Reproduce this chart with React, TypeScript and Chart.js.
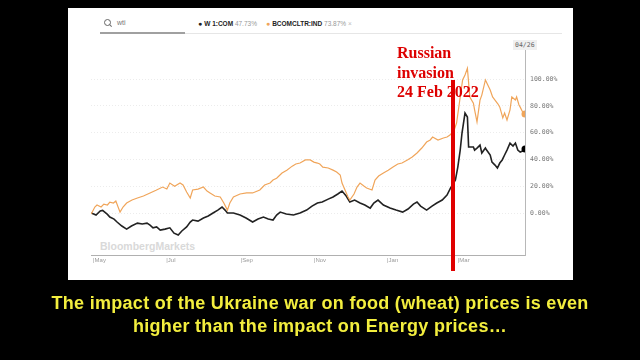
import React, { useEffect, useRef } from "react";
import { Chart, registerables } from "chart.js";

Chart.register(...registerables);

// Days counted from 1 May 2021; values are % change over one year
const wheatDays = [-1.5, 2.5, 6, 8, 12, 14, 17.5, 20, 24, 28, 32, 37, 41, 45, 47.5, 50, 53, 56, 60, 64, 67.5, 71, 74, 78, 81, 83, 87.5, 92, 96, 100, 104, 107.5, 110, 112, 117, 122.5, 127.5, 133, 137.5, 142, 146, 150, 153, 156, 161, 167, 172.5, 178, 182.5, 187, 191, 196, 200, 204, 207.5, 211, 214, 218, 222.5, 226.5, 231, 234, 237.5, 242, 247.5, 252.5, 258, 262.5, 267, 270, 273, 278, 282.5, 286.5, 291, 295, 298, 302, 304, 306, 307.5, 310, 312, 313, 317, 318, 320, 322.5, 324, 327, 328, 331, 332.5, 335, 337, 339, 341, 343, 345, 347.5, 350, 352, 354, 356, 358, 360];
const wheatPct = [0, -1.5, 1.5, 2, -1, -3, -4.5, -6.7, -9.7, -12, -9.7, -7.5, -8.2, -7.5, -9, -11, -10.4, -12.7, -12, -11, -15, -16.4, -13.4, -10.4, -6.7, -5.2, -6, -3.7, -2.2, 0, 2.2, 4.5, 2.2, 0, 0, -1.5, -3.7, -6.7, -4.5, -3, -4.5, -5.2, -1.5, 0.7, -0.7, -1.5, 0, 2.2, 5.2, 7.5, 8.2, 10.4, 12, 14.2, 16.4, 12.7, 8.2, 9.7, 7.5, 6, 3.7, 7.5, 9.7, 6, 3.7, 2.2, 0.7, 3, 6.7, 8.2, 5.2, 2.2, 5.2, 7.5, 9.7, 13.4, 18.7, 24.6, 34.3, 47, 59.7, 74.6, 71.6, 49.3, 49.3, 47, 48.5, 50.7, 44.8, 48.5, 47, 43.3, 38, 35.8, 33.6, 37.3, 39.6, 43.3, 47, 52.2, 50, 52.2, 47, 45.5, 46.3, 47.73];

const energyDays = [-1.5, 1.5, 3.3, 6.7, 9, 12, 14, 17, 19, 22.5, 25, 28, 32.5, 37, 42, 47.5, 52.5, 58, 61.5, 64, 68, 72.5, 75, 78, 81, 83, 87.5, 92, 95, 97.5, 101.5, 106, 109, 112, 114, 117, 122.5, 128, 133, 139, 143, 147.5, 150, 153, 157.5, 161.5, 166, 169, 172.5, 177, 181, 184, 187, 189, 191.5, 196, 200, 203, 206, 207.5, 210, 212.5, 214, 217.5, 220, 222.5, 226, 228, 232.5, 235, 238, 242, 246, 250, 254, 257.5, 262, 266, 270, 274, 278, 281, 283, 287.5, 292, 295, 297.5, 301, 303, 306, 308, 310, 312, 314, 317, 318, 320, 322.5, 324, 327, 329, 331, 333, 335, 337.5, 339, 341.5, 343, 345, 347.5, 349, 352, 353, 355, 356, 358, 360];
const energyPct = [-0.7, 4.5, 6, 4.5, 6.7, 6, 8.2, 7.5, 9, 0.7, 4.5, 7.5, 9.7, 11.2, 12.7, 15, 17, 19.4, 17.9, 22.4, 20, 22.4, 20.9, 15.7, 11.2, 17.2, 17.9, 19.4, 16.4, 15, 12.7, 12, 7.5, 2.2, 7.5, 12, 14.2, 15, 15, 17.2, 20.9, 22.4, 24.6, 26, 29.9, 32, 35, 36.6, 37.3, 39.6, 39.6, 38, 37.3, 36.6, 34.3, 33.6, 32, 30.6, 28.4, 22.4, 17.2, 12, 9.7, 14.2, 19.4, 22.4, 20, 18.7, 17.2, 24.6, 27.6, 29.9, 32, 34.3, 36.6, 37.3, 39.6, 41.8, 44.8, 48.5, 53, 54.5, 56.7, 54.5, 56, 56.7, 58.2, 62, 67.2, 86.6, 99.3, 103, 108, 86.6, 82, 77, 68, 84.3, 88, 99.3, 95.5, 91.8, 86.6, 84.3, 81.3, 79, 71, 74.6, 69.4, 77, 86.6, 84.3, 86.6, 80.6, 79, 75.4, 73.87];

const xTickDays = [0, 61, 123, 184, 245, 304];
const xTickLabels = ["|May", "|Jul", "|Sep", "|Nov", "|Jan", "|Mar"];
const yTickValues = [0, 20, 40, 60, 80, 100];

const abs = (s: React.CSSProperties): React.CSSProperties => ({ position: "absolute", ...s });

export default function App() {
  const ref = useRef<HTMLCanvasElement>(null);
  useEffect(() => {
    if (!ref.current) return;
    const wLast = wheatDays.length - 1;
    const eLast = energyDays.length - 1;
    const chart = new Chart(ref.current, {
      type: "line",
      data: {
        datasets: [
          {
            label: "BCOMCLTR:IND",
            data: energyDays.map((d, i) => ({ x: d, y: energyPct[i] })),
            borderColor: "#f0a55a",
            backgroundColor: "#f0a55a",
            borderWidth: 1.2,
            pointRadius: (c: any) => (c.dataIndex === eLast ? 3.5 : 0),
            pointBorderWidth: 0,
            tension: 0,
          },
          {
            label: "W 1:COM",
            data: wheatDays.map((d, i) => ({ x: d, y: wheatPct[i] })),
            borderColor: "#222",
            backgroundColor: "#000",
            borderWidth: 1.6,
            pointRadius: (c: any) => (c.dataIndex === wLast ? 3.5 : 0),
            pointBorderWidth: 0,
            tension: 0,
          },
        ],
      },
      options: {
        animation: false,
        responsive: false,
        maintainAspectRatio: false,
        layout: { padding: { left: 91, right: 65, top: 40, bottom: 90 } },
        plugins: { legend: { display: false }, tooltip: { enabled: false } },
        scales: {
          x: {
            type: "linear",
            min: -1.7,
            max: 360,
            afterBuildTicks: (s: any) => {
              s.ticks = xTickDays.map((v) => ({ value: v }));
            },
            afterFit: (s: any) => {
              s.height = 15;
            },
            ticks: {
              autoSkip: false,
              maxRotation: 0,
              align: "start",
              padding: 2,
              color: "#9a9a9a",
              font: { family: "Liberation Sans", size: 6 },
              callback: (_v: any, i: number) => xTickLabels[i],
            },
            grid: { display: false, drawTicks: false },
            border: { display: true, color: "#b0b0b0", width: 1 },
          },
          y: {
            position: "right",
            min: -31.3,
            max: 129.1,
            afterBuildTicks: (s: any) => {
              s.ticks = yTickValues.map((v) => ({ value: v }));
            },
            afterFit: (s: any) => {
              s.width = 50;
            },
            ticks: {
              padding: 5,
              color: "#777",
              font: { family: "DejaVu Sans Mono", size: 6.5 },
              callback: (v: any) => Number(v).toFixed(2) + "%",
            },
            grid: { color: "#ececec", lineWidth: 1, drawTicks: false },
            border: { display: true, color: "#b8b8b8", dash: [1, 2], width: 1 },
          },
        },
      },
    });
    return () => chart.destroy();
  }, []);

  const small: React.CSSProperties = { fontFamily: "Liberation Sans, Arial, sans-serif", fontSize: 6.5, whiteSpace: "nowrap" };

  return (
    <div style={{ position: "fixed", left: 0, top: 0, width: 640, height: 360, background: "#000", overflow: "hidden" }}>
      <div style={abs({ left: 68, top: 8, width: 505, height: 272, background: "#fff" })} />
      {/* header */}
      <div style={abs({ left: 104, top: 19, width: 5, height: 5, border: "1.2px solid #666", borderRadius: "50%" })} />
      <div style={abs({ left: 109, top: 25, width: 3, height: 1.3, background: "#666", transform: "rotate(45deg)" })} />
      <div style={abs({ left: 117, top: 19, ...small, fontSize: 7, color: "#777" })}>wti</div>
      <div style={abs({ left: 100, top: 32, width: 85, height: 2, background: "#a0a0a0" })} />
      <div style={abs({ left: 185, top: 33, width: 377, height: 1, background: "#e6e6e6" })} />
      <div style={abs({ left: 198, top: 20, ...small, color: "#222" })}>
        <span style={{ fontSize: 7 }}>● </span>
        <b>W 1:COM</b> <span style={{ color: "#999" }}>47.73%</span>
        <span style={{ color: "#f0a55a", fontSize: 7, marginLeft: 9 }}>● </span>
        <b>BCOMCLTR:IND</b> <span style={{ color: "#999" }}>73.87%</span> <span style={{ color: "#bbb" }}>×</span>
      </div>
      {/* watermark */}
      <div style={abs({ left: 100, top: 240, fontFamily: "Liberation Sans, Arial, sans-serif", fontWeight: "bold", fontSize: 10.5, color: "#d9d9d9", whiteSpace: "nowrap" })}>BloombergMarkets</div>
      <canvas ref={ref} width={640} height={360} style={abs({ left: 0, top: 0, width: 640, height: 360 })} />
      {/* date flag */}
      <div style={abs({ left: 513, top: 40, padding: "1px 2px", background: "#f0f0f0", fontFamily: "DejaVu Sans Mono, monospace", fontSize: 6.5, color: "#666" })}>04/26</div>
      {/* annotation */}
      <div style={abs({ left: 397, top: 43, fontFamily: "Liberation Serif, Times New Roman, serif", fontWeight: "bold", fontSize: 16, lineHeight: "19.5px", color: "#dd0000", whiteSpace: "nowrap" })}>
        Russian<br />invasion<br />24 Feb 2022
      </div>
      <div style={abs({ left: 451, top: 80, width: 4, height: 191, background: "#e00000" })} />
      {/* caption */}
      <div style={abs({ left: 0, top: 292, width: 640, textAlign: "center", fontFamily: "Liberation Sans, Arial, sans-serif", fontWeight: "bold", fontSize: 18, letterSpacing: 0.3, lineHeight: "23px", color: "#f3ee3e", whiteSpace: "nowrap" })}>
        The impact of the Ukraine war on food (wheat) prices is even<br />higher than the impact on Energy prices…
      </div>
    </div>
  );
}
